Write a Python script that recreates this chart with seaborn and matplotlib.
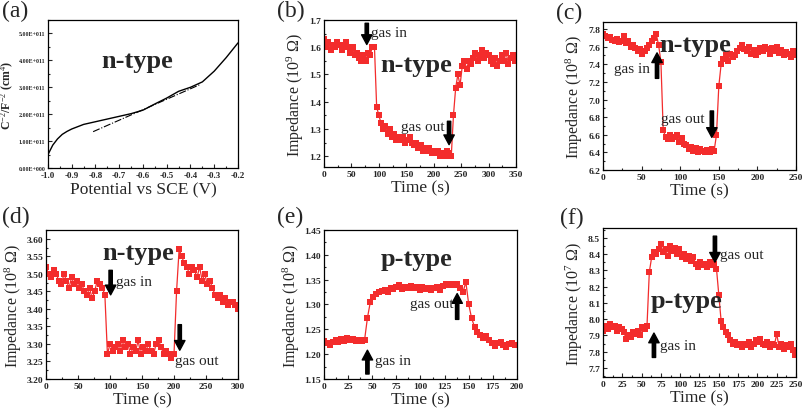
import numpy as np
import matplotlib
matplotlib.use("Agg")
import matplotlib.pyplot as plt
from matplotlib.ticker import MultipleLocator, AutoMinorLocator, FormatStrFormatter
import seaborn as sns

# (a) Mott-Schottky
pot = [-1.0, -0.98, -0.96, -0.94, -0.92, -0.9, -0.85, -0.8, -0.75, -0.7, -0.65, -0.6,
       -0.55, -0.5, -0.45, -0.4, -0.35, -0.3, -0.25, -0.2]
cs = [0.5, 0.85, 1.08, 1.25, 1.36, 1.45, 1.62, 1.72, 1.82, 1.92, 2.02, 2.15,
      2.38, 2.6, 2.85, 3.0, 3.2, 3.6, 4.1, 4.65]
fit_x = [-0.81, -0.36]
fit_y = [1.35, 3.1]
a_yticks = ["0.00E+000", "1.00E+011", "2.00E+011", "3.00E+011", "4.00E+011", "5.00E+011"]
a_xticks = ["-1.0", "-0.9", "-0.8", "-0.7", "-0.6", "-0.5", "-0.4", "-0.3", "-0.2"]

# (b) step 4 s
b_val = [1.63, 1.60, 1.62, 1.59, 1.61, 1.60, 1.62, 1.61, 1.59, 1.61,
         1.62, 1.60, 1.58, 1.60, 1.57, 1.58, 1.56, 1.55, 1.57, 1.55,
         1.58, 1.57, 1.60, 1.60, 1.38, 1.35, 1.32, 1.30, 1.31, 1.28,
         1.30, 1.27, 1.28, 1.26, 1.27, 1.26, 1.27, 1.25, 1.26, 1.27,
         1.25, 1.24, 1.25, 1.23, 1.24, 1.22, 1.23, 1.22, 1.23, 1.21,
         1.22, 1.21, 1.22, 1.20, 1.21, 1.20, 1.22, 1.21, 1.20, 1.35,
         1.45, 1.50, 1.46, 1.53, 1.55, 1.52, 1.55, 1.54, 1.56, 1.58,
         1.55, 1.57, 1.59, 1.56, 1.58, 1.57, 1.55, 1.54, 1.56, 1.53,
         1.55, 1.57, 1.55, 1.58, 1.54, 1.56, 1.57, 1.55]
# (c) step 3 s
c_val = [7.74, 7.72, 7.70, 7.71, 7.68, 7.66, 7.69, 7.65, 7.67, 7.72,
         7.64, 7.66, 7.60, 7.62, 7.58, 7.55, 7.57, 7.52, 7.55, 7.58,
         7.62, 7.66, 7.70, 7.74, 7.62, 7.43, 6.65, 6.58, 6.55, 6.60,
         6.55, 6.58, 6.60, 6.52, 6.56, 6.50, 6.48, 6.44, 6.46, 6.42,
         6.45, 6.41, 6.44, 6.42, 6.40, 6.43, 6.41, 6.44, 6.42, 6.60,
         7.15, 7.40, 7.46, 7.50, 7.44, 7.52, 7.48, 7.50, 7.55, 7.58,
         7.62, 7.57, 7.55, 7.60, 7.52, 7.56, 7.50, 7.54, 7.58, 7.55,
         7.60, 7.57, 7.52, 7.58, 7.55, 7.60, 7.53, 7.56, 7.50, 7.54,
         7.52, 7.48, 7.55, 7.50]
# (d) step 4 s
d_val = [3.52, 3.50, 3.49, 3.51, 3.50, 3.48, 3.47, 3.50, 3.48, 3.46,
         3.49, 3.47, 3.48, 3.46, 3.47, 3.45, 3.44, 3.46, 3.43, 3.45,
         3.48, 3.47, 3.46, 3.44, 3.27, 3.30, 3.28, 3.29, 3.30, 3.28,
         3.31, 3.29, 3.30, 3.27, 3.29, 3.28, 3.31, 3.27, 3.29, 3.28,
         3.30, 3.28, 3.27, 3.30, 3.31, 3.29, 3.27, 3.28, 3.27, 3.26,
         3.27, 3.45, 3.57, 3.55, 3.53, 3.52, 3.50, 3.52, 3.51, 3.49,
         3.52, 3.48, 3.50, 3.47, 3.48, 3.46, 3.44, 3.43, 3.44, 3.42,
         3.43, 3.41, 3.42, 3.42, 3.41, 3.40]
# (e) step 3 s
e_val = [1.227, 1.222, 1.218, 1.225, 1.228, 1.224, 1.230, 1.226, 1.232, 1.228,
         1.230, 1.226, 1.229, 1.227, 1.228, 1.273, 1.305, 1.315, 1.322, 1.325,
         1.328, 1.330, 1.326, 1.333, 1.331, 1.335, 1.340, 1.332, 1.336, 1.334,
         1.338, 1.333, 1.335, 1.330, 1.336, 1.332, 1.334, 1.329, 1.333, 1.335,
         1.330, 1.338, 1.342, 1.340, 1.342, 1.339, 1.341, 1.333, 1.325, 1.345,
         1.300, 1.272, 1.255, 1.245, 1.238, 1.232, 1.236, 1.228, 1.222, 1.216,
         1.222, 1.225, 1.218, 1.214, 1.220, 1.222, 1.219]
# (f) step 3 s
f_val = [7.93, 7.96, 7.94, 7.97, 7.95, 7.96, 7.93, 7.95, 7.94, 7.92,
         7.88, 7.90, 7.89, 7.92, 7.91, 7.93, 7.90, 7.95, 7.94, 7.96,
         8.29, 8.38, 8.41, 8.40, 8.43, 8.46, 8.41, 8.43, 8.39, 8.45,
         8.42, 8.44, 8.40, 8.43, 8.38, 8.40, 8.37, 8.39, 8.36, 8.38,
         8.34, 8.32, 8.35, 8.33, 8.34, 8.32, 8.35, 8.33, 8.34, 8.31,
         8.15, 7.99, 7.95, 7.92, 7.90, 7.87, 7.85, 7.86, 7.84, 7.85,
         7.83, 7.85, 7.84, 7.86, 7.83, 7.85, 7.87, 7.86, 7.88, 7.85,
         7.84, 7.86, 7.83, 7.85, 7.84, 7.91, 7.83, 7.85, 7.82, 7.84,
         7.83, 7.85, 7.81, 7.78]

sns.set_style("ticks")
plt.rcParams['font.family'] = ['Liberation Serif', 'DejaVu Serif']
plt.rcParams['mathtext.fontset'] = 'custom'
plt.rcParams['mathtext.rm'] = 'Liberation Serif'
plt.rcParams['mathtext.it'] = 'Liberation Serif:italic'
plt.rcParams['mathtext.bf'] = 'Liberation Serif:bold'

RED = "#f32c2c"
GAS = 11
TYPE = 19

fig = plt.figure(figsize=(8.03, 4.10), dpi=100)


def box(l, r, t, b):
    return [l / 803, 1 - b / 410, (r - l) / 803, (b - t) / 410]


def style(ax, xmaj, ymaj, tsize=6.8):
    ax.xaxis.set_major_locator(MultipleLocator(xmaj))
    ax.xaxis.set_minor_locator(AutoMinorLocator(2))
    ax.yaxis.set_major_locator(MultipleLocator(ymaj))
    ax.yaxis.set_minor_locator(AutoMinorLocator(2))
    ax.tick_params(which='both', direction='in', top=False, right=False, width=0.8)
    ax.tick_params(which='major', length=3, labelsize=tsize, pad=2)
    ax.tick_params(which='minor', length=1.5)
    for s in ax.spines.values():
        s.set_linewidth(0.9)
        s.set_color('black')
        s.set_visible(True)


def arrow(ax, x, y0, y1):
    ax.annotate("", xy=(x, y1), xytext=(x, y0),
                arrowprops=dict(facecolor='black', edgecolor='black', width=2.4,
                                headwidth=7.5, headlength=7, shrink=0))


def series(ax, step, vals):
    t = np.arange(len(vals)) * step
    sns.lineplot(x=t, y=vals, ax=ax, color=RED, marker='s', markersize=3.8,
                 markeredgewidth=0, linewidth=0.9)


# (a)
ax = fig.add_axes(box(48, 238, 21, 169))
sns.lineplot(x=pot, y=cs, ax=ax, color='black', linewidth=1.0)
ax.plot(fit_x, fit_y, color='black', linestyle='-.', linewidth=0.8)
ax.set_xlim(-1.0, -0.2)
ax.set_ylim(0, 5.5)
style(ax, 0.1, 1.0)
ax.set_xticks(np.arange(-1.0, -0.15, 0.1))
ax.set_xticklabels(a_xticks, fontsize=6.5)
ax.set_yticks(range(6))
ax.set_yticklabels(a_yticks, fontsize=4.3)
ax.set_xlabel("Potential vs SCE (V)", fontsize=12.5, labelpad=1)
ax.set_ylabel(r"C$^{-2}$/F$^{-2}$ (cm$^{4}$)", fontsize=8.5, fontweight='bold', labelpad=2)
ax.text(-0.625, 3.99, "n-type", fontsize=TYPE, fontweight='bold', ha='center', va='center')

# (b)
ax = fig.add_axes(box(324, 516, 21, 168))
series(ax, 4, b_val)
ax.set_xlim(0, 350)
ax.set_ylim(1.16, 1.70)
style(ax, 50, 0.1)
ax.yaxis.set_major_formatter(FormatStrFormatter('%.1f'))
ax.set_xlabel("Time (s)", fontsize=12.5, labelpad=1)
ax.set_ylabel(r"Impedance (10$^{9}$ $\Omega$)", fontsize=11.5, labelpad=2)
arrow(ax, 78, 1.688, 1.61)
ax.text(86, 1.655, "gas in", fontsize=GAS, ha='left', va='center')
ax.text(168, 1.535, "n-type", fontsize=TYPE, fontweight='bold', ha='center', va='center')
ax.text(180, 1.307, "gas out", fontsize=GAS, ha='center', va='center')
arrow(ax, 228, 1.328, 1.242)

# (c)
ax = fig.add_axes(box(603, 796, 23, 171))
series(ax, 3, c_val)
ax.set_xlim(0, 250)
ax.set_ylim(6.2, 7.88)
style(ax, 50, 0.2)
ax.yaxis.set_major_formatter(FormatStrFormatter('%.1f'))
ax.set_xlabel("Time (s)", fontsize=12.5, labelpad=1)
ax.set_ylabel(r"Impedance (10$^{8}$ $\Omega$)", fontsize=11.5, labelpad=2)
ax.text(37, 7.35, "gas in", fontsize=GAS, ha='center', va='center')
arrow(ax, 70, 7.24, 7.53)
ax.text(120, 7.63, "n-type", fontsize=TYPE, fontweight='bold', ha='center', va='center')
ax.text(103, 6.79, "gas out", fontsize=GAS, ha='center', va='center')
arrow(ax, 141, 6.87, 6.57)

# (d)
ax = fig.add_axes(box(46, 238, 231, 380))
series(ax, 4, d_val)
ax.set_xlim(0, 300)
ax.set_ylim(3.20, 3.625)
style(ax, 50, 0.05)
ax.yaxis.set_major_formatter(FormatStrFormatter('%.2f'))
ax.set_xlabel("Time (s)", fontsize=12.5, labelpad=1)
ax.set_ylabel(r"Impedance (10$^{8}$ $\Omega$)", fontsize=11.5, labelpad=2)
ax.text(144, 3.56, "n-type", fontsize=TYPE, fontweight='bold', ha='center', va='center')
arrow(ax, 101, 3.51, 3.44)
ax.text(109, 3.477, "gas in", fontsize=GAS, ha='left', va='center')
arrow(ax, 209, 3.355, 3.282)
ax.text(202, 3.252, "gas out", fontsize=GAS, ha='left', va='center')

# (e)
ax = fig.add_axes(box(324, 517, 231, 380))
series(ax, 3, e_val)
ax.set_xlim(0, 200)
ax.set_ylim(1.15, 1.45)
style(ax, 25, 0.05)
ax.yaxis.set_major_formatter(FormatStrFormatter('%.2f'))
ax.set_xlabel("Time (s)", fontsize=12.5, labelpad=1)
ax.set_ylabel(r"Impedance (10$^{8}$ $\Omega$)", fontsize=11.5, labelpad=2)
ax.text(96, 1.393, "p-type", fontsize=TYPE, fontweight='bold', ha='center', va='center')
arrow(ax, 138, 1.27, 1.322)
ax.text(134, 1.302, "gas out", fontsize=GAS, ha='right', va='center')
arrow(ax, 45, 1.16, 1.208)
ax.text(53, 1.188, "gas in", fontsize=GAS, ha='left', va='center')

# (f)
ax = fig.add_axes(box(603, 796, 229, 378))
series(ax, 3, f_val)
ax.set_xlim(0, 250)
ax.set_ylim(7.645, 8.56)
style(ax, 25, 0.1)
ax.yaxis.set_major_formatter(FormatStrFormatter('%.1f'))
ax.set_xlabel("Time (s)", fontsize=12.5, labelpad=1)
ax.set_ylabel(r"Impedance (10$^{7}$ $\Omega$)", fontsize=11.5, labelpad=2)
ax.text(152, 8.40, "gas out", fontsize=GAS, ha='left', va='center')
arrow(ax, 145, 8.51, 8.35)
ax.text(108, 8.115, "p-type", fontsize=TYPE, fontweight='bold', ha='center', va='center')
arrow(ax, 66, 7.765, 7.915)
ax.text(74, 7.84, "gas in", fontsize=GAS, ha='left', va='center')

for ax in fig.axes:
    for lab in ax.get_xticklabels() + ax.get_yticklabels():
        lab.set_fontweight('bold')

for lab, x, y in [("(a)", 2, 1), ("(b)", 277, 1), ("(c)", 556, 3),
                  ("(d)", 2, 207), ("(e)", 277, 207), ("(f)", 560, 208)]:
    fig.text(x / 803, 1 - y / 410, lab, fontsize=17, ha='left', va='top')

fig.savefig("out.png", dpi=100, facecolor='white')
